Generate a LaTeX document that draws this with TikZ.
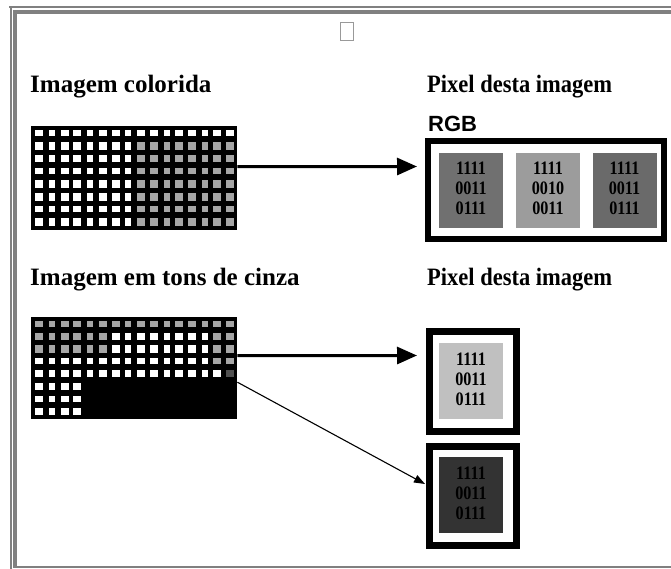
\documentclass[tikz,border=0pt]{standalone}
\usepackage{graphicx}
\usepackage{fontspec}
\setmainfont{Liberation Serif}
\setsansfont{Liberation Sans}
\usetikzlibrary{arrows.meta,calc}
\definecolor{framegray}{HTML}{808080}
\definecolor{phgray}{HTML}{999999}
\definecolor{cw}{HTML}{FFFFFF}
\definecolor{cg}{HTML}{A6A6A6}
\definecolor{ck}{HTML}{000000}
\definecolor{cd}{HTML}{505050}
\definecolor{redch}{HTML}{707070}
\definecolor{greench}{HTML}{9C9C9C}
\definecolor{bluech}{HTML}{6A6A6A}
\definecolor{lightpix}{HTML}{C0C0C0}
\definecolor{darkpix}{HTML}{333333}
\newcommand\bitcol[3]{\scalebox{0.85}[1]{\begin{tabular}{@{}c@{}}#1\\#2\\#3\end{tabular}}}
\newcommand\pixlabel{\scalebox{0.9}[1]{Pixel desta imagem}}
\begin{document}
\begin{tikzpicture}[x=1pt,y=-1pt,
  heading/.style={font=\fontsize{25}{28}\selectfont\bfseries, inner sep=0pt, anchor=base west},
  imggrid/.style={fill=black, inner sep=0pt, minimum width=206pt, anchor=north west},
  pixbox/.style={draw=black, line width=6pt, fill=white, inner sep=0pt},
  chan/.style={inner sep=0pt, minimum width=64pt, minimum height=75pt, align=center, font=\fontsize{19}{20}\selectfont\bfseries},
  bigarrow/.style={line width=3pt, -{Triangle[length=20pt,width=17pt]}},
  thinarrow/.style={line width=1.1pt, -{Triangle[length=11pt,width=8pt]}},
]
\useasboundingbox[fill=white] (0,0) rectangle (671,569);

% page frame
\fill[framegray] (9,5.7) rectangle (671,7.7);
\fill[framegray] (10,5.7) rectangle (12,569);
\fill[framegray] (12.7,10) rectangle (671,14);
\fill[framegray] (12.7,10) rectangle (16.7,568);
\fill[framegray] (12.7,565.7) rectangle (671,567.7);

% image placeholder
\node[draw=phgray, line width=0.8pt, minimum width=13pt, minimum height=18pt, inner sep=0pt] (ph) at (347,31) {};

% headings
\node[heading] (t1) at (30,93) {Imagem colorida};
\node[heading] (t2) at (427,93) {\pixlabel};
\node[heading] (t3) at (30,285) {Imagem em tons de cinza};
\node[heading] (t4) at (427,285) {\pixlabel};

% colour image grid
\node[imggrid, minimum height=104pt] (colorimg) at (31,126) {};
\foreach \rowlist [count=\j from 0] in {
 {w,w,w,w,w,w,w,w,w,w,w,w,w,w,w,w},
 {w,w,w,w,w,w,w,w,g,g,g,g,g,g,g,g},
 {w,w,w,w,w,w,w,w,g,g,g,g,g,g,g,g},
 {w,w,w,w,w,w,w,w,g,g,g,g,g,g,g,g},
 {w,w,w,w,w,w,w,w,g,g,g,g,g,g,g,g},
 {w,w,w,w,w,w,w,w,g,g,g,g,g,g,g,g},
 {w,w,w,w,w,w,w,w,g,g,g,g,g,g,g,g},
 {w,w,w,w,w,w,w,w,g,g,g,g,g,g,g,g}} {
  \foreach \c [count=\i from 0] in \rowlist {
    \pgfmathsetmacro\cx{39.2+12.73*\i}
    \pgfmathsetmacro\cy{133.3+12.7*\j}
    \pgfmathsetmacro\hw{mod(\i,3)==1 ? 3 : 4}
    \pgfmathsetmacro\hh{mod(\j,3)==0 ? 3 : 3.8}
    \fill[c\c] (\cx-\hw,\cy-\hh) rectangle (\cx+\hw,\cy+\hh);
  }
}

% grayscale image grid
\node[imggrid, minimum height=102pt] (grayimg) at (31,317) {};
\foreach \rowlist [count=\j from 0] in {
 {g,g,g,g,g,g,g,g,g,g,g,g,g,g,g,g},
 {g,g,g,g,g,g,w,w,w,w,w,w,w,w,g,g},
 {g,g,g,g,g,g,w,w,w,w,w,w,w,w,g,g},
 {w,w,w,w,w,w,w,w,w,w,w,w,w,w,g,g},
 {w,w,w,w,w,w,w,w,w,w,w,w,w,w,w,d},
 {w,w,w,w,k,k,k,k,k,k,k,k,k,k,k,k},
 {w,w,w,w,k,k,k,k,k,k,k,k,k,k,k,k},
 {w,w,w,w,k,k,k,k,k,k,k,k,k,k,k,k}} {
  \foreach \c [count=\i from 0] in \rowlist {
    \pgfmathsetmacro\cx{39.2+12.73*\i}
    \pgfmathsetmacro\cy{324+12.45*\j}
    \pgfmathsetmacro\hw{mod(\i,3)==1 ? 3 : 4}
    \pgfmathsetmacro\hh{mod(\j,3)==0 ? 3 : 3.6}
    \fill[c\c] (\cx-\hw,\cy-\hh) rectangle (\cx+\hw,\cy+\hh);
  }
}

% RGB pixel
\node[font=\sffamily\bfseries\fontsize{22}{24}\selectfont, anchor=base west, inner sep=0pt] (rgb) at (428,132) {RGB};
\node[pixbox, minimum width=236pt, minimum height=98pt] (rgbbox) at (546,190) {};
\node[chan, fill=redch] (rch) at (471,190.5) {\bitcol{1111}{0011}{0111}};
\node[chan, fill=greench] (gch) at (548,190.5) {\bitcol{1111}{0010}{0011}};
\node[chan, fill=bluech] (bch) at (624.5,190.5) {\bitcol{1111}{0011}{0111}};

% grey pixels
\node[pixbox, line width=7pt, minimum width=87pt, minimum height=100pt] (graybox1) at (473,381.5) {};
\node[chan, fill=lightpix, minimum height=76pt] (g1) at (471,381) {\bitcol{1111}{0011}{0111}};
\node[pixbox, line width=7pt, minimum width=87pt, minimum height=99pt] (graybox2) at (473,496) {};
\node[chan, fill=darkpix, minimum height=76pt] (g2) at (471,495) {\bitcol{1111}{0011}{0111}};

% arrows
\draw[bigarrow] ([yshift=11.5pt]colorimg.east) -- ([xshift=-8pt,yshift=23.5pt]rgbbox.west);
\draw[bigarrow] ([yshift=12.5pt]grayimg.east) -- ([xshift=-9pt,yshift=26pt]graybox1.west);
\draw[thinarrow] ([yshift=-14pt]grayimg.east) -- ([xshift=-1pt,yshift=12pt]graybox2.west);
\end{tikzpicture}
\end{document}
